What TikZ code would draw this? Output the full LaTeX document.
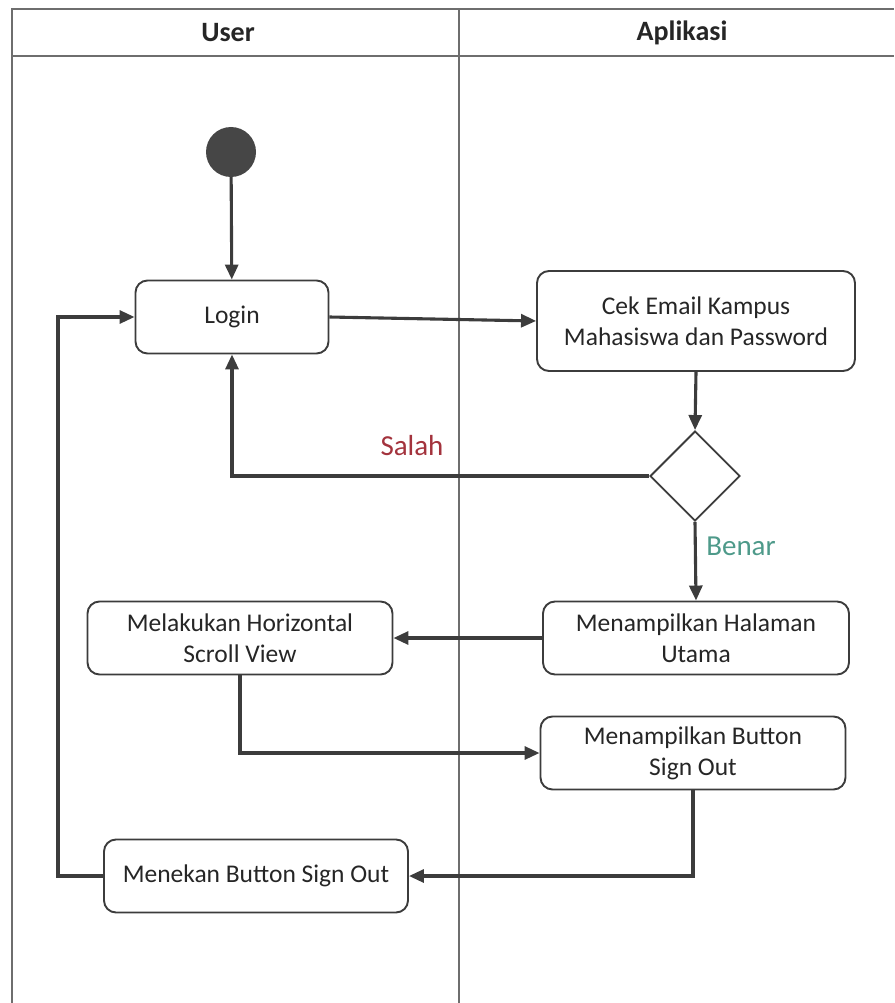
\documentclass[tikz,border=0pt]{standalone}
\usepackage{fontspec}
\setmainfont{Carlito}
\usetikzlibrary{arrows.meta,shapes.geometric}
\definecolor{ln}{HTML}{3C3C3C}
\definecolor{lane}{HTML}{6E6E6E}
\definecolor{salahc}{HTML}{A3333D}
\definecolor{benarc}{HTML}{4E9A8A}
\tikzset{
  act/.style={draw=ln, line width=1.9pt, rounded corners=12pt, fill=white, align=center,
    font=\fontsize{25.5}{31}\selectfont, text=black!85, inner sep=0pt},
  flow/.style={draw=ln, line width=3.1pt, -{Triangle[length=15pt,width=13pt]}},
  lanel/.style={draw=lane, line width=2.6pt},
  hdr/.style={font=\fontsize{28}{32}\selectfont\bfseries, text=black!85},
  guard/.style={font=\fontsize{29}{33}\selectfont}
}
\begin{document}
\begin{tikzpicture}[x=1pt,y=-1pt]
\useasboundingbox (0,0) rectangle (894,1003);
% swimlanes
\draw[lanel] (12,1003) -- (12,9) -- (894,9);
\draw[lanel] (12,56) -- (894,56);
\draw[lanel] (459,9) -- (459,1003);
\node[hdr] (hu) at (228,33) {User};
\node[hdr] (ha) at (682,33) {Aplikasi};
% nodes
\node[circle, fill=ln!95, minimum size=50pt, inner sep=0pt] (start) at (231,152) {};
\node[act, minimum width=193pt, minimum height=73pt] (login) at (232,317) {Login};
\node[act, minimum width=318pt, minimum height=100pt] (cek) at (696,321) {Cek Email Kampus\\Mahasiswa dan Password};
\node[diamond, draw=ln, line width=1.9pt, fill=white, minimum width=90pt, minimum height=90pt, inner sep=0pt] (dia) at (695,476) {};
\node[act, minimum width=306pt, minimum height=73pt] (hal) at (696,638) {Menampilkan Halaman\\Utama};
\node[act, minimum width=305pt, minimum height=73pt] (mel) at (240,638) {Melakukan Horizontal\\Scroll View};
\node[act, minimum width=305pt, minimum height=73pt] (btn) at (693,753) {Menampilkan Button\\Sign Out};
\node[act, minimum width=304pt, minimum height=73pt] (men) at (256,876) {Menekan Button Sign Out};
\coordinate (ret) at (58,876);
% labels
\node[guard, text=salahc] (salah) at (412,446) {Salah};
\node[guard, text=benarc] (benar) at (741,546) {Benar};
% connectors
\draw[flow] (start) -- (login);
\draw[flow] (login.east) -- (cek.west);
\draw[flow] (cek.south) -- (dia.north);
\draw[flow] (dia.west) -| (login.south);
\draw[flow] (dia.south) -- (hal.north);
\draw[flow] (hal.west) -- (mel.east);
\draw[flow] (mel.south) |- (btn.west);
\draw[flow] (btn.south) |- (men.east);
\draw[flow] (men.west) -- (ret) |- (login.west);
\end{tikzpicture}
\end{document}
